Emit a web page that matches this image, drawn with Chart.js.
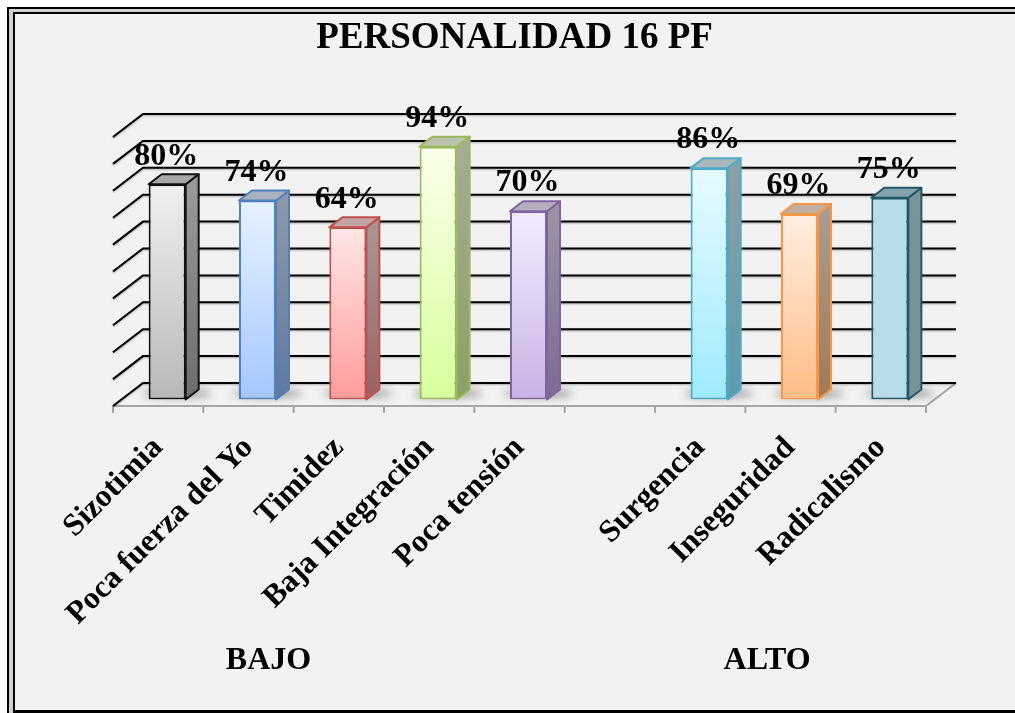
<!DOCTYPE html>
<html>
<head>
<meta charset="utf-8">
<title>Personalidad 16 PF</title>
<script src="https://cdn.jsdelivr.net/npm/chart.js@4/dist/chart.umd.min.js"></script>
<style>
    html, body { margin: 0; padding: 0; background: #fff; overflow: hidden; }
    canvas { display: block; }
</style>
</head>
<body>
<canvas id="myChart" width="1015" height="713"></canvas>
<script>
const chartTitle = 'PERSONALIDAD 16 PF';
const categories = ['Sizotimia', 'Poca fuerza del Yo', 'Timidez', 'Baja Integración', 'Poca tensión', '', 'Surgencia', 'Inseguridad', 'Radicalismo'];
const percentages = [80, 74, 64, 94, 70, null, 86, 69, 75];
const groupNames = ['BAJO', 'ALTO'];
const yTicksMax = 100;

// border, front top, front bottom, side top, side bottom, top face
const barStyles = [
    ['#111111', '#f0f0f0', '#b8b8b8', '#9a9a9a', '#6c6c6c', '#a8a8a8'],
    ['#4f81bd', '#e8f2ff', '#a3c7ff', '#8d97a9', '#5f78a1', '#a9b1c1'],
    ['#c0504d', '#ffe6e6', '#ff9b9b', '#a99494', '#9b6262', '#c2a5a5'],
    ['#9bbb59', '#faffea', '#d8ff9c', '#a6ab98', '#8b9f68', '#bcc2ac'],
    ['#8064a2', '#f3ecfd', '#c8b2e6', '#9a93a3', '#7d6a92', '#b5aebd'],
    ['#000000', '#000000', '#000000', '#000000', '#000000', '#000000'],
    ['#4bacc6', '#e6fbff', '#9feaff', '#8e9ea2', '#5c9bb0', '#a9b7ba'],
    ['#f79646', '#ffefe2', '#ffbc86', '#a99c90', '#a07a55', '#bfb0a2'],
    ['#215968', '#b7dde8', '#b7dde8', '#7b939a', '#77929a', '#85a3ac']
];

const SERIF = '"Liberation Serif", "Times New Roman", serif';
const DEPTH_BACK = { x: 21, y: -16.5 };
const DEPTH_FRONT = { x: -9, y: 6.5 };
const BAR_DEPTH = { x: 13, y: -10 };

const framePlugin = {
    id: 'frame',
    beforeDraw(chart) {
        const { ctx, width, height } = chart;
        ctx.save();
        ctx.fillStyle = '#f2f2f2';
        ctx.fillRect(14, 13, width - 14, height - 13);
        ctx.fillStyle = '#d0d0d0';
        ctx.fillRect(9, 9, width - 9, 3);
        ctx.fillRect(9, 9, 4, height - 9);
        ctx.fillStyle = '#000';
        ctx.fillRect(7, 7, width - 7, 2);
        ctx.fillRect(7, 7, 2, height - 7);
        ctx.fillRect(13, 12, width - 13, 2);
        ctx.fillRect(13, 12, 2, height - 12);
        ctx.fillRect(13, 710, width - 13, 3);
        ctx.restore();
    }
};

const wallsPlugin = {
    id: 'walls',
    beforeDatasetsDraw(chart) {
        const { ctx, chartArea, scales } = chart;
        const left = chartArea.left, right = chartArea.right, base = chartArea.bottom;
        const backLeft = left + DEPTH_BACK.x, backRight = right + DEPTH_BACK.x;
        const frontLeft = left + DEPTH_FRONT.x, frontRight = right + DEPTH_FRONT.x;
        const frontY = base + DEPTH_FRONT.y, backY = base + DEPTH_BACK.y;
        ctx.save();

        // floor edges and tick marks
        ctx.strokeStyle = '#a6a6a6';
        ctx.lineWidth = 2;
        ctx.beginPath();
        ctx.moveTo(frontLeft, frontY);
        ctx.lineTo(frontRight, frontY);
        ctx.lineTo(backRight, backY);
        const step = scales.x.getPixelForValue(1) - scales.x.getPixelForValue(0);
        categories.forEach((c, i) => {
            const x = scales.x.getPixelForValue(i) - step / 2 + DEPTH_FRONT.x;
            ctx.moveTo(x, frontY);
            ctx.lineTo(x, frontY + 7);
        });
        ctx.moveTo(frontRight, frontY);
        ctx.lineTo(frontRight, frontY + 7);
        ctx.stroke();

        // grid lines on the side wall and back wall
        ctx.strokeStyle = '#000';
        ctx.lineWidth = 2;
        ctx.shadowColor = 'rgba(0,0,0,0.3)';
        ctx.shadowBlur = 2;
        ctx.shadowOffsetY = 1;
        scales.y.ticks.forEach(t => {
            const y = scales.y.getPixelForValue(t.value) + DEPTH_BACK.y;
            ctx.beginPath();
            ctx.moveTo(frontLeft, y + DEPTH_FRONT.y - DEPTH_BACK.y);
            ctx.lineTo(backLeft, y);
            ctx.lineTo(backRight, y);
            ctx.stroke();
        });
        ctx.restore();

        // soft shadow on the floor behind each bar
        ctx.save();
        ctx.filter = 'blur(4px)';
        ctx.fillStyle = 'rgba(0,0,0,0.38)';
        chart.getDatasetMeta(0).data.forEach((bar, i) => {
            if (percentages[i] === null) return;
            const p = bar.getProps(['x', 'base', 'width'], true);
            ctx.beginPath();
            ctx.ellipse(p.x + 10, p.base - 6, 35, 4, 0, 0, Math.PI * 2);
            ctx.fill();
        });
        ctx.restore();
    }
};

const bar3dPlugin = {
    id: 'bar3d',
    afterDatasetsDraw(chart) {
        const { ctx } = chart;
        chart.getDatasetMeta(0).data.forEach((bar, i) => {
            if (percentages[i] === null) return;
            const s = barStyles[i];
            const p = bar.getProps(['x', 'y', 'base', 'width'], true);
            const r = p.x + p.width / 2, l = p.x - p.width / 2;
            ctx.save();
            ctx.strokeStyle = s[0];
            ctx.lineWidth = 2;
            ctx.lineJoin = 'round';

            const side = ctx.createLinearGradient(0, p.y, 0, p.base);
            side.addColorStop(0, s[3]);
            side.addColorStop(1, s[4]);
            ctx.fillStyle = side;
            ctx.beginPath();
            ctx.moveTo(r, p.y);
            ctx.lineTo(r + BAR_DEPTH.x, p.y + BAR_DEPTH.y);
            ctx.lineTo(r + BAR_DEPTH.x, p.base + BAR_DEPTH.y);
            ctx.lineTo(r, p.base);
            ctx.closePath();
            ctx.fill();
            ctx.stroke();

            ctx.fillStyle = s[5];
            ctx.beginPath();
            ctx.moveTo(l, p.y);
            ctx.lineTo(l + BAR_DEPTH.x, p.y + BAR_DEPTH.y);
            ctx.lineTo(r + BAR_DEPTH.x, p.y + BAR_DEPTH.y);
            ctx.lineTo(r, p.y);
            ctx.closePath();
            ctx.fill();
            ctx.stroke();
            ctx.restore();
        });
    }
};

const textPlugin = {
    id: 'chartTexts',
    afterDraw(chart) {
        const { ctx, scales } = chart;
        ctx.save();
        ctx.fillStyle = '#000';
        ctx.textAlign = 'center';
        ctx.textBaseline = 'middle';

        ctx.font = 'bold 37px ' + SERIF;
        ctx.fillText(chartTitle, 514.5, 38);

        ctx.font = 'bold 32px ' + SERIF;
        chart.getDatasetMeta(0).data.forEach((bar, i) => {
            if (percentages[i] === null) return;
            ctx.fillText(percentages[i] + '%', bar.x - 1, scales.y.getPixelForValue(percentages[i]) - 28);
        });

        ctx.fillText(groupNames[0], scales.x.getPixelForValue(1) + 11, 661);
        ctx.fillText(groupNames[1], scales.x.getPixelForValue(6) + 58, 661);
        ctx.restore();
    }
};

const ctx = document.getElementById('myChart').getContext('2d');
const myChart = new Chart(ctx, {
    type: 'bar',
    data: {
        labels: categories,
        datasets: [{
            label: 'Personalidad 16 PF',
            data: percentages,
            borderWidth: 2,
            borderSkipped: false,
            borderColor: barStyles.map(s => s[0]),
            backgroundColor(c) {
                const s = barStyles[c.dataIndex];
                if (!s || !c.chart.chartArea) return '#ccc';
                const value = percentages[c.dataIndex] || 0;
                const y = c.chart.scales.y;
                const g = c.chart.ctx.createLinearGradient(0, y.getPixelForValue(value), 0, y.getPixelForValue(0));
                g.addColorStop(0, s[1]);
                g.addColorStop(1, s[2]);
                return g;
            },
            barPercentage: 0.41,
            categoryPercentage: 1
        }]
    },
    options: {
        responsive: false,
        animation: false,
        layout: { padding: { left: 122, right: 80, top: 130.5, bottom: 33.5 } },
        plugins: {
            legend: { display: false },
            title: { display: false },
            tooltip: { enabled: false }
        },
        scales: {
            x: {
                grid: { display: false },
                border: { display: false },
                afterFit(scale) { scale.height = 280; },
                ticks: {
                    autoSkip: false,
                    minRotation: 45,
                    maxRotation: 45,
                    color: '#000',
                    padding: 22,
                    labelOffset: -9,
                    font: { family: SERIF, size: 31.5, weight: 'bold' }
                }
            },
            y: {
                min: 0,
                max: yTicksMax,
                grid: { display: false },
                border: { display: false },
                afterFit(scale) { scale.width = 0; },
                ticks: { stepSize: 10, display: false }
            }
        }
    },
    plugins: [framePlugin, wallsPlugin, bar3dPlugin, textPlugin]
});
</script>
</body>
</html>
